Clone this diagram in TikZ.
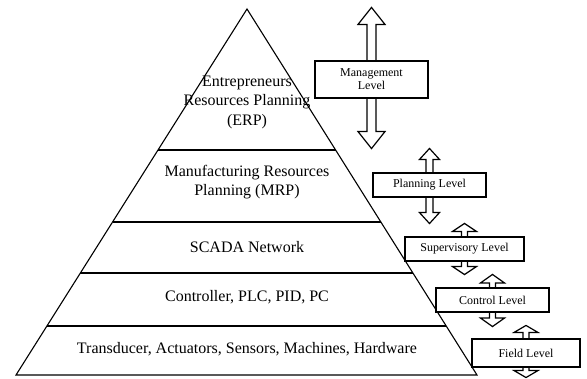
\documentclass[tikz,border=0pt]{standalone}
\usepackage{fontspec}
\setmainfont{Liberation Serif}
\usetikzlibrary{positioning,calc}

\tikzset{
  layer/.style={align=center, font=\fontsize{16}{19.5}\selectfont},
  levelbox/.style={draw, fill=white, line width=1.1pt, align=center, inner sep=0pt,
    font=\fontsize{12}{13}\selectfont}
}

% block arrow through a level box: box, tip above, tip below, head length, head half width, shaft half width
\newcommand{\levelarrow}[6]{
  \draw[line width=1.2pt] ($(#1.north)+(-#6,0)$) -- ++(0,{#2-#4}) -- ++({#6-#5},0) -- ++(#5,#4)
    -- ++(#5,-#4) -- ++({#6-#5},0) -- ++(0,{#4-#2});
  \draw[line width=1.2pt] ($(#1.south)+(-#6,0)$) -- ++(0,{#4-#3}) -- ++({#6-#5},0) -- ++(#5,-#4)
    -- ++(#5,#4) -- ++({#6-#5},0) -- ++(0,{#3-#4});
}

\begin{document}
\begin{tikzpicture}[x=1pt, y=1pt, line width=1.1pt]
\useasboundingbox (0,0) rectangle (587,378);

% pyramid
\coordinate (apex) at (247,369);
\coordinate (bl) at (16,3);
\coordinate (br) at (477,3);
\draw (bl) -- (apex) -- (br) -- cycle;
\foreach \t in {0.1339,0.2787,0.418,0.6148}
  \draw ($(bl)!\t!(apex)$) -- ($(br)!\t!(apex)$);

\node[layer] (erp) at (247,276) {Entrepreneurs\\Resources Planning\\(ERP)};
\node[layer] (mrp) at (247,196) {Manufacturing Resources\\Planning (MRP)};
\node[layer] (scada) at (247,131) {SCADA Network};
\node[layer] (plc) at (247,81) {Controller, PLC, PID, PC};
\node[layer] (hw) at (247,29) {Transducer, Actuators, Sensors, Machines, Hardware};

% levels
\node[levelbox, minimum width=113pt, minimum height=37pt] (mgmt) at (371.5,298.5) {Management\\Level};
\node[levelbox, minimum width=113pt, minimum height=24pt] (plan) at (429.5,193) {Planning Level};
\node[levelbox, minimum width=119pt, minimum height=24pt] (super) at (464.5,129) {Supervisory Level};
\node[levelbox, minimum width=113pt, minimum height=24pt] (control) at (492.5,78) {Control Level};
\node[levelbox, minimum width=108pt, minimum height=28pt] (fieldlvl) at (526,25) {Field Level};

\levelarrow{mgmt}{53}{50}{17}{13.5}{4.5}
\levelarrow{plan}{24}{26}{11}{10}{3.5}
\levelarrow{super}{13}{13}{8}{12}{3}
\levelarrow{control}{13}{14}{8.5}{12}{3}
\levelarrow{fieldlvl}{13}{10}{7}{12}{3}
\end{tikzpicture}
\end{document}
